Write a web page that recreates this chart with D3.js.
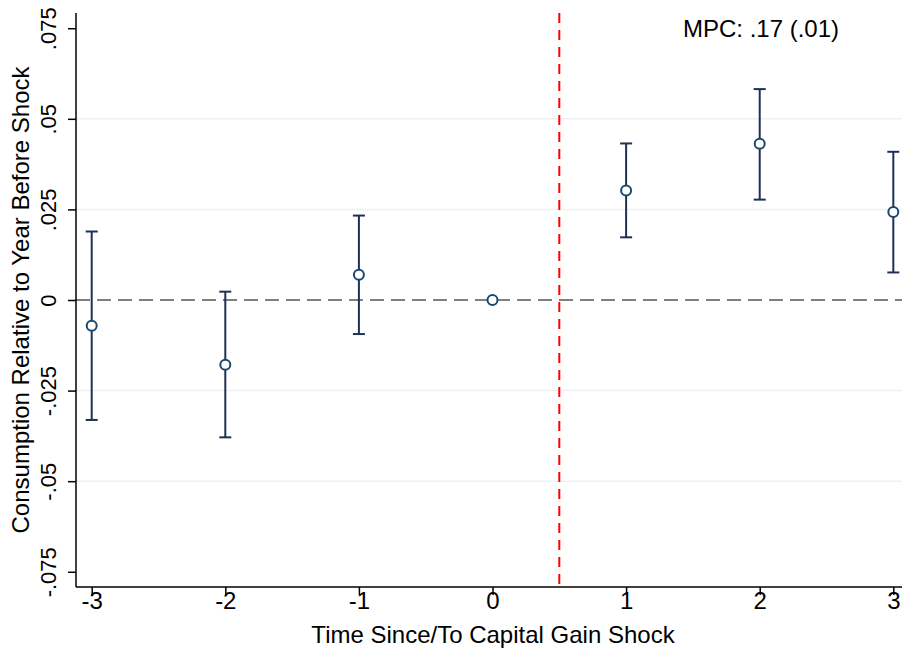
<!DOCTYPE html>
<html><head><meta charset="utf-8">
<script src="https://cdn.jsdelivr.net/npm/d3@7"></script>
<style>body{margin:0;background:#fff}svg{display:block}text{font-family:Arial,"Liberation Sans",sans-serif}</style>
</head><body><svg id="c" width="902" height="650"></svg>
<script>
const periods = [-3, -2, -1, 0, 1, 2, 3];
const estimates = [-0.0071, -0.0179, 0.0070, 0.0, 0.0302, 0.0431, 0.0243];
const ciLower = [-0.0331, -0.0379, -0.0094, null, 0.0173, 0.0277, 0.0076];
const ciUpper = [0.0189, 0.0023, 0.0233, null, 0.0432, 0.0582, 0.0409];
const yTicks = [-0.075, -0.05, -0.025, 0, 0.025, 0.05, 0.075];
const yTickLabels = ["-.075", "-.05", "-.025", "0", ".025", ".05", ".075"];
const gridValues = [-0.05, -0.025, 0.025, 0.05];
const shockLine = 0.5;
const annotation = "MPC: .17 (.01)";
const xTitle = "Time Since/To Capital Gain Shock";
const yTitle = "Consumption Relative to Year Before Shock";

const svg = d3.select("#c");
const L = 76, R = 902, T = 13, B = 587;
const x = d3.scaleLinear().domain([-3.1175, 3.065]).range([L, R]);
const y = d3.scaleLinear().domain([-0.0792, 0.0792]).range([B, T]);

svg.append("g").selectAll("line").data(gridValues).join("line")
  .attr("x1", L).attr("x2", R).attr("y1", d => y(d)).attr("y2", d => y(d))
  .attr("stroke", "#eaf2f3").attr("stroke-width", 1.5);

svg.append("line").attr("x1", L).attr("x2", R).attr("y1", y(0)).attr("y2", y(0))
  .attr("stroke", "#808080").attr("stroke-width", 2).attr("stroke-dasharray", "14,7");

svg.append("line").attr("x1", x(shockLine)).attr("x2", x(shockLine)).attr("y1", T).attr("y2", B)
  .attr("stroke", "#ff0000").attr("stroke-width", 2).attr("stroke-dasharray", "10,7");

const yAxis = d3.axisLeft(y).tickValues(yTicks).tickFormat((d, i) => yTickLabels[i]).tickSize(8).tickSizeOuter(0);
const gy = svg.append("g").attr("transform", `translate(${L},0)`).call(yAxis);
gy.attr("font-size", null).attr("font-family", null);
gy.select(".domain").attr("stroke", "#000").attr("stroke-width", 1.5).attr("d", `M0,${T}V${B}`);
gy.selectAll(".tick line").attr("stroke", "#000").attr("stroke-width", 1.5);
gy.selectAll(".tick text").style("font-size", "22px").attr("fill", "#000")
  .attr("text-anchor", "middle").attr("x", 0).attr("y", 0).attr("dy", 0)
  .attr("transform", "translate(-20,0) rotate(-90)");

const xAxis = d3.axisBottom(x).tickValues(periods).tickFormat(d3.format("d")).tickSize(8).tickSizeOuter(0);
const gx = svg.append("g").attr("transform", `translate(0,${B})`).call(xAxis);
gx.attr("font-size", null).attr("font-family", null);
gx.select(".domain").attr("stroke", "#000").attr("stroke-width", 1.5).attr("d", `M${L},0H${R}`);
gx.selectAll(".tick line").attr("stroke", "#000").attr("stroke-width", 1.5);
gx.selectAll(".tick text").style("font-size", "24px").attr("fill", "#000").attr("y", 22).attr("dy", 0)
  .text(d => d < 0 ? "-" + Math.abs(d) : String(d));

svg.append("text").attr("x", 493).attr("y", 643).attr("text-anchor", "middle").style("font-size", "24px").attr("fill", "#000").text(xTitle);
svg.append("text").attr("transform", `translate(29,${(T + B) / 2}) rotate(-90)`).attr("text-anchor", "middle")
  .style("font-size", "24px").attr("fill", "#000").text(yTitle);

svg.append("text").attr("x", 683).attr("y", 37).style("font-size", "24px").attr("fill", "#000").text(annotation);

const data = periods.map((p, i) => ({p, est: estimates[i], lo: ciLower[i], hi: ciUpper[i]}));
const eb = svg.append("g").attr("stroke", "#1f3057").attr("stroke-width", 2);
data.filter(d => d.lo !== null).forEach(d => {
  eb.append("line").attr("x1", x(d.p)).attr("x2", x(d.p)).attr("y1", y(d.lo)).attr("y2", y(d.hi));
  eb.append("line").attr("x1", x(d.p) - 6).attr("x2", x(d.p) + 6).attr("y1", y(d.lo)).attr("y2", y(d.lo));
  eb.append("line").attr("x1", x(d.p) - 6).attr("x2", x(d.p) + 6).attr("y1", y(d.hi)).attr("y2", y(d.hi));
});

svg.append("g").selectAll("circle").data(data).join("circle")
  .attr("cx", d => x(d.p)).attr("cy", d => y(d.est)).attr("r", 5)
  .attr("fill", "#fff").attr("stroke", "#1a476f").attr("stroke-width", 2);
</script></body></html>
